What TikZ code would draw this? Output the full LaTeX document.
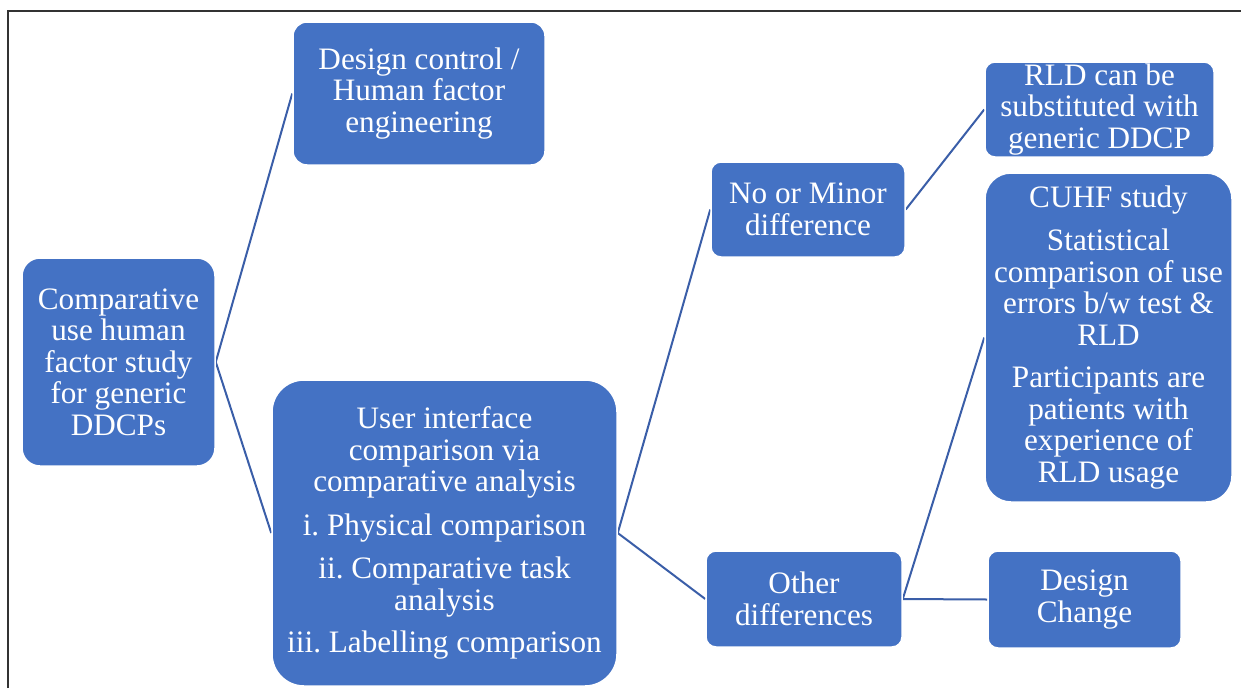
\documentclass[tikz,border=0pt]{standalone}
\usepackage{fontspec}
\setmainfont{Liberation Serif}
\usetikzlibrary{backgrounds}
\definecolor{boxblue}{HTML}{4472C4}
\definecolor{linkblue}{HTML}{3A5EA8}
\frenchspacing
\begin{document}
\begin{tikzpicture}[x=1pt,y=-1pt,
  box/.style={draw=white, line width=1.5pt, fill=boxblue, text=white, align=center,
    font=\fontsize{31.2}{31.5}\selectfont, inner sep=0pt},
  link/.style={draw=linkblue, line width=2pt}]
\useasboundingbox (0,0) rectangle (1241,688);
\draw[line width=1.2pt, black!80] (8,688) -- (8,11) -- (1241,11);

\node[box, rounded corners=18pt, minimum width=193pt, minimum height=208pt] (root) at (118.5,362)
  {Comparative\\use human\\factor study\\for generic\\DDCPs};
\node[box, rounded corners=14pt, minimum width=252pt, minimum height=143pt] (design) at (419,93.5)
  {Design control /\\Human factor\\engineering};
\node[box, rounded corners=32pt, minimum width=345pt, minimum height=306pt] (ui) at (444.5,533)
  {User interface\\comparison via\\comparative analysis\\[12pt]i. Physical comparison\\[12pt]ii. Comparative task\\analysis\\[11pt]iii. Labelling comparison};
\node[box, rounded corners=10pt, minimum width=194pt, minimum height=95pt] (minor) at (808,209.5)
  {No or Minor\\difference};
\node[box, rounded corners=10pt, minimum width=196pt, minimum height=96pt] (other) at (804,599)
  {Other\\differences};
\node[box, rounded corners=10pt, minimum width=229pt, minimum height=95pt] (rld) at (1099.5,109.5)
  {RLD can be\\substituted with\\generic DDCP};
\node[box, rounded corners=26pt, minimum width=247pt, minimum height=329pt] (cuhf) at (1108.5,337.5)
  {CUHF study\\[12pt]Statistical\\comparison of use\\errors b/w test \&\\RLD\\[11pt]Participants are\\patients with\\experience of\\RLD usage};
\node[box, rounded corners=10pt, minimum width=193pt, minimum height=97pt] (change) at (1084.5,599.5)
  {Design\\Change};

\begin{scope}[on background layer]
\draw[link] (root.east) -- (design.west);
\draw[link] (root.east) -- (ui.west);
\draw[link] (ui.east) -- (minor.west);
\draw[link] (ui.east) -- (other.west);
\draw[link] (minor.east) -- (rld.west);
\draw[link] (other.east) -- (cuhf.west);
\draw[link] (other.east) -- (change.west);
\end{scope}
\end{tikzpicture}
\end{document}
